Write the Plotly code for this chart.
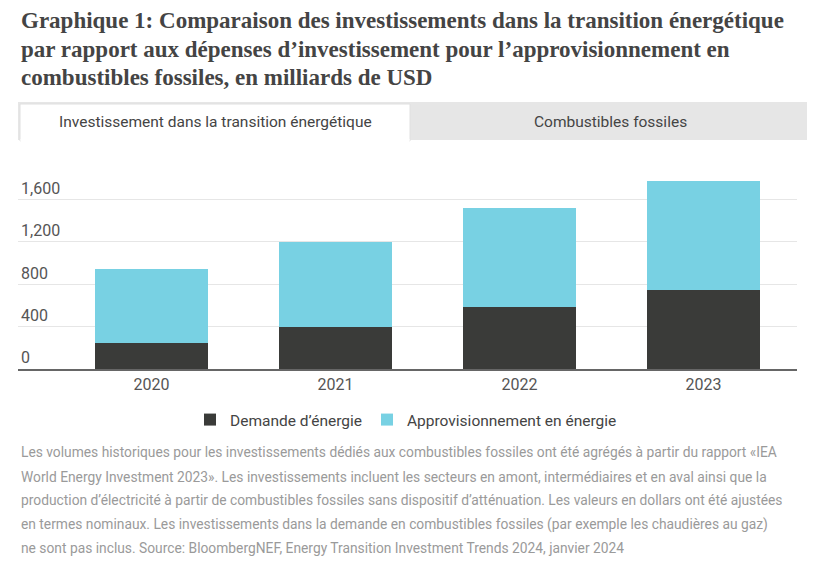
import plotly.graph_objects as go

years = ["2020", "2021", "2022", "2023"]
demande = [242, 399, 585, 748]
approvisionnement = [698, 796, 934, 1026]
y_ticks = [0, 400, 800, 1200, 1600]
y_tick_labels = ["0", "400", "800", "1,200", "1,600"]

title_lines = [
    "Graphique 1: Comparaison des investissements dans la transition énergétique",
    "par rapport aux dépenses d’investissement pour l’approvisionnement en",
    "combustibles fossiles, en milliards de USD",
]
note_lines = [
    "Les volumes historiques pour les investissements dédiés aux combustibles fossiles ont été agrégés à partir du rapport «IEA",
    "World Energy Investment 2023». Les investissements incluent les secteurs en amont, intermédiaires et en aval ainsi que la",
    "production d’électricité à partir de combustibles fossiles sans dispositif d’atténuation. Les valeurs en dollars ont été ajustées",
    "en termes nominaux. Les investissements dans la demande en combustibles fossiles (par exemple les chaudières au gaz)",
    "ne sont pas inclus. Source: BloombergNEF, Energy Transition Investment Trends 2024, janvier 2024",
]
tabs = ["Investissement dans la transition énergétique", "Combustibles fossiles"]

# page body has an 8px margin; positions below are given in window pixels
O = 8
W, H = 815 - O, 565 - O
SANS = "Roboto"

def px(x):
    return (x - O) / W

def py(y):
    return 1 - (y - O) / H

fig = go.Figure()
fig.add_trace(go.Bar(x=years, y=demande, name="Demande d’énergie",
                     marker=dict(color="#3a3b39", line=dict(width=0))))
fig.add_trace(go.Bar(x=years, y=approvisionnement, name="Approvisionnement en énergie",
                     marker=dict(color="#78d1e3", line=dict(width=0))))

annotations = []
title_y = [20, 49, 77]
for t, yy in zip(title_lines, title_y):
    annotations.append(dict(text="<b>" + t + "</b>", x=px(19), y=py(yy), xref="paper", yref="paper",
                            xanchor="left", yanchor="middle", showarrow=False,
                            font=dict(family="Liberation Serif, serif", size=23, color="#444444")))
note_y = [452, 477, 500, 524, 548]
for t, yy in zip(note_lines, note_y):
    annotations.append(dict(text=t, x=px(19), y=py(yy), xref="paper", yref="paper",
                            xanchor="left", yanchor="middle", showarrow=False,
                            font=dict(family=SANS, size=13.8, color="#9a9a9a")))
tab_centers = [215, 610]
for t, cx in zip(tabs, tab_centers):
    annotations.append(dict(text=t, x=px(cx), y=py(122), xref="paper", yref="paper",
                            xanchor="center", yanchor="middle", showarrow=False,
                            font=dict(family=SANS, size=15.5, color="#444444")))

shapes = [
    dict(type="rect", xref="paper", yref="paper", x0=px(18), x1=px(808), y0=py(140), y1=py(102),
         fillcolor="#e6e6e6", line=dict(width=0), layer="below"),
    dict(type="rect", xref="paper", yref="paper", x0=px(20), x1=px(410), y0=py(141), y1=py(104),
         fillcolor="#ffffff", line=dict(width=1, color="#e0e0e0"), layer="below"),
    dict(type="rect", xref="paper", yref="paper", x0=px(20.5), x1=px(409.5), y0=py(142), y1=py(139),
         fillcolor="#ffffff", line=dict(width=0), layer="below"),
]

fig.update_layout(
    width=W, height=H,
    margin=dict(l=0, r=0, t=0, b=0),
    paper_bgcolor="white", plot_bgcolor="white",
    barmode="stack", bargap=0.385,
    showlegend=True,
    legend=dict(orientation="h", x=px(406), xanchor="center", y=py(420), yanchor="middle",
                font=dict(family=SANS, size=15.5, color="#444444"), traceorder="normal",
                itemclick=False, itemdoubleclick=False),
    xaxis=dict(domain=[px(18), px(797)], type="category", range=[-0.726, 3.508],
               showgrid=False, showline=True, linecolor="#666666", linewidth=2,
               ticks="", ticklabelstandoff=0,
               tickfont=dict(family=SANS, size=16, color="#555555")),
    yaxis=dict(domain=[py(369), py(178.1)], range=[0, 1800],
               tickvals=y_ticks, ticktext=y_tick_labels,
               ticklabelposition="inside top",
               showgrid=True, gridcolor="#e6e6e6", gridwidth=1,
               zeroline=False, showline=False, ticks="",
               tickfont=dict(family=SANS, size=16, color="#555555")),
    annotations=annotations,
    shapes=shapes,
)

fig.write_html("out.html")
